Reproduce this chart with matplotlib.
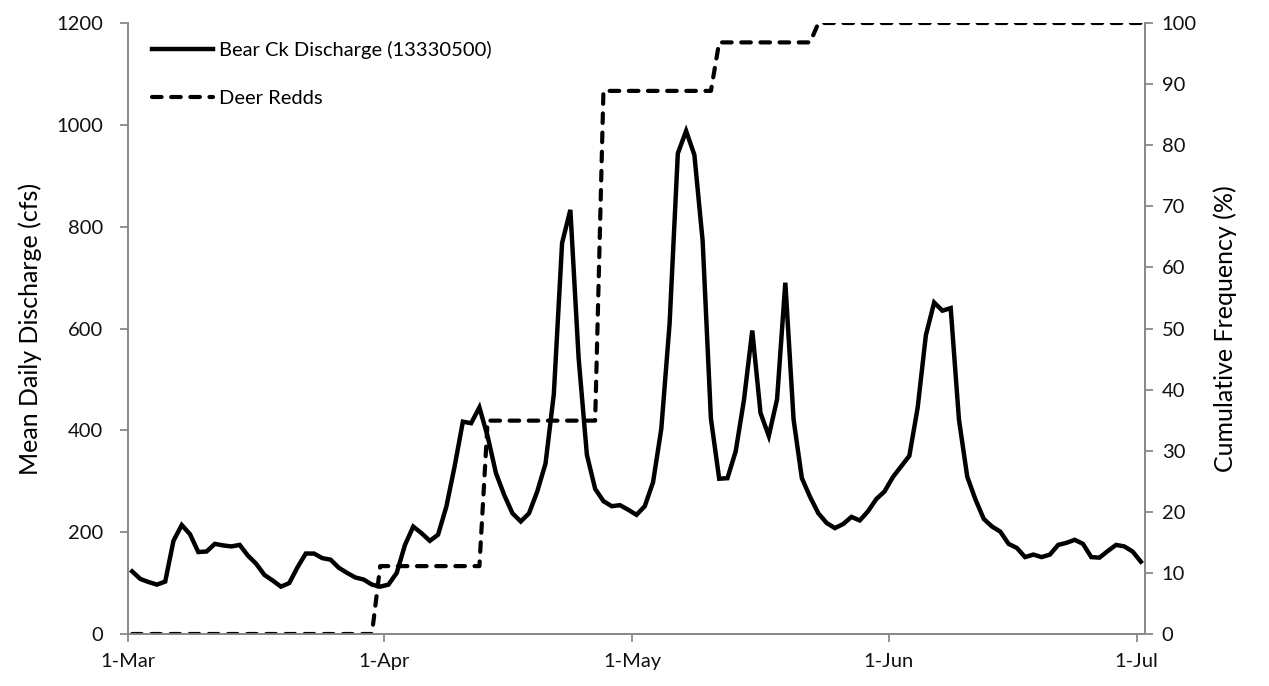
"""Bear Creek mean daily discharge with cumulative frequency of deer redds."""

import matplotlib
matplotlib.use('Agg')
import matplotlib.dates as mdates
import matplotlib.pyplot as plt
import pandas as pd

# Mean daily discharge (cfs), one value per day from 1-Mar to 1-Jul.
first_day = '2015-03-01 12:00'
discharge = [
    123, 108, 102, 97, 103, 183, 214, 196, 161, 162,
    177, 174, 172, 175, 154, 138, 116, 105, 93, 100,
    131, 158, 158, 149, 146, 130, 120, 111, 107, 97,
    93, 97, 120, 175, 211, 198, 183, 195, 250, 329,
    417, 414, 445, 388, 316, 273, 237, 221, 237, 280,
    335, 471, 768, 833, 542, 352, 285, 261, 251, 253,
    244, 234, 251, 298, 403, 609, 944, 988, 941, 772,
    423, 305, 306, 359, 460, 596, 434, 389, 461, 690,
    421, 306, 269, 237, 218, 208, 216, 230, 223, 241,
    265, 280, 308, 329, 350, 444, 587, 651, 635, 640,
    421, 309, 264, 226, 211, 201, 177, 169, 151, 156,
    151, 156, 175, 179, 185, 177, 151, 150, 163, 175,
    172, 162, 142,
]

# Deer redds counted on each survey date.
redd_dates = ['2015-03-31 12:00', '2015-04-13 12:00', '2015-04-27 12:00',
              '2015-05-11 12:00', '2015-05-23 12:00']
redd_counts = [7, 15, 34, 5, 2]

month_ticks = ['2015-03-01', '2015-04-01', '2015-05-01', '2015-06-01',
               '2015-07-01']


def main():

    plt.rcParams['font.family'] = ['Lato', 'DejaVu Sans']

    days = pd.date_range(first_day, periods=len(discharge), freq='D')
    redds = pd.Series(redd_counts, index=pd.to_datetime(redd_dates))
    redds = redds.reindex(days, fill_value=0).cumsum()
    cum_pct = redds / sum(redd_counts) * 100

    grey = '#898989'

    fig = plt.figure(figsize=(12.69, 6.86), dpi=100)
    ax = fig.add_axes([128 / 1269, 1 - 634 / 686, 1017 / 1269, 611 / 686])
    ax2 = ax.twinx()

    l1, = ax.plot(days, discharge, color='k', lw=3.2,
                  solid_joinstyle='miter', label='Bear Ck Discharge (13330500)')
    l2, = ax2.plot(days, cum_pct.values, color='k', lw=3.0,
                   dashes=(2.3, 2.3), dash_capstyle='round',
                   label='Deer Redds')

    ax.set_xlim(pd.Timestamp('2015-03-01'), pd.Timestamp('2015-07-02'))
    ax.set_ylim(0, 1200)
    ax.set_yticks(range(0, 1201, 200))
    ax2.set_ylim(0, 100)
    ax2.set_yticks(range(0, 101, 10))

    ax.set_xticks(pd.to_datetime(month_ticks))
    ax.xaxis.set_major_formatter(mdates.DateFormatter('%-d-%b'))

    for a in (ax, ax2):
        a.spines['top'].set_visible(False)
        for side in ('left', 'right', 'bottom'):
            a.spines[side].set_color(grey)
            a.spines[side].set_linewidth(1.3)
        a.tick_params(colors=grey, labelcolor='#111111', labelsize=14.5,
                      length=6, width=1.3, direction='out')
    ax.tick_params(axis='x', pad=8)
    ax.tick_params(axis='y', pad=12)
    ax2.tick_params(axis='y', pad=6)

    ax.set_ylabel('Mean Daily Discharge (cfs)', fontsize=18, labelpad=10)
    ax2.set_ylabel('Cumulative Frequency (%)', fontsize=18, labelpad=12)

    ax2.legend([l1, l2], [l1.get_label(), l2.get_label()], loc='upper left',
               bbox_to_anchor=(0.024, 0.97), frameon=False, fontsize=14.5,
               handlelength=3.0, handletextpad=0.3, labelspacing=1.5,
               borderaxespad=0, borderpad=0)

    fig.savefig('out.png', dpi=100)


if __name__ == '__main__':
    main()
